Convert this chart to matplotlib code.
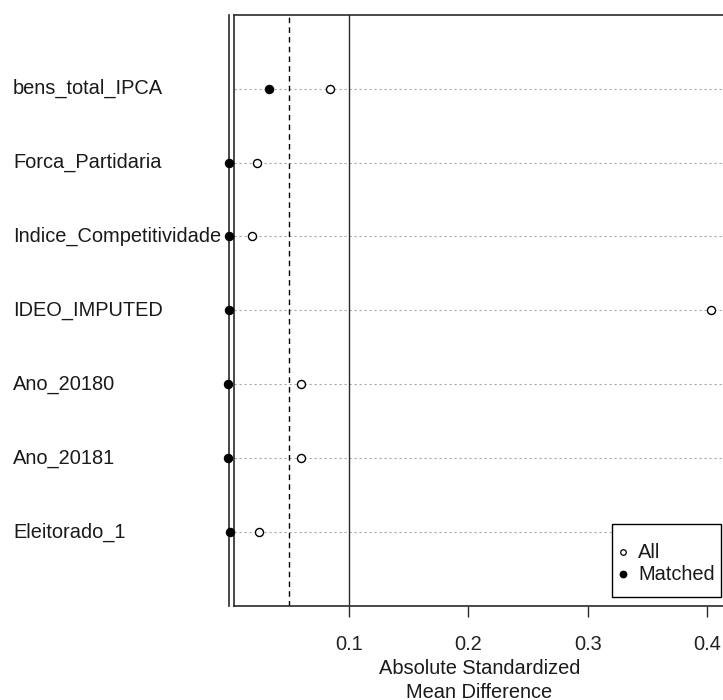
import matplotlib
matplotlib.use("Agg")
import matplotlib.pyplot as plt
from matplotlib.lines import Line2D
from matplotlib.patches import Rectangle
from matplotlib.transforms import blended_transform_factory

plt.rcParams["font.family"] = ["Liberation Sans", "DejaVu Sans"]

# Covariates, top to bottom
covariates = ["bens_total_IPCA", "Forca_Partidaria", "Indice_Competitividade",
              "IDEO_IMPUTED", "Ano_20180", "Ano_20181", "Eleitorado_1"]
# Absolute standardized mean differences
smd_all = [0.084, 0.023, 0.019, 0.403, 0.060, 0.060, 0.025]
smd_matched = [0.033, 0.000, 0.000, 0.000, -0.001, -0.001, 0.001]
xticks = [0.1, 0.2, 0.3, 0.4]
threshold = 0.05
legend_labels = ["All", "Matched"]

W, H = 723, 700
fig = plt.figure(figsize=(W / 100, H / 100), dpi=100)


def fx(px):
    return px / W


def fy(py):
    return 1 - py / H


left_px, right_px, top_px, bottom_px = 234, 725, 14.7, 606
ax = fig.add_axes([fx(left_px), fy(bottom_px),
                   (right_px - left_px) / W, (bottom_px - top_px) / H])

n = len(covariates)
ypos = list(range(n, 0, -1))
ax.set_ylim(0, n + 1)
ax.set_xlim(0.004, 0.4149)

fs = 14.4
ink = "#1a1a1a"

# Row guides
for y in ypos:
    ax.axhline(y, color="#a8a8a8", lw=0.8, ls=(0, (2, 2.5)), zorder=1)

# Reference lines
ax.plot([0, 0], [0, n + 1], color="#2a2a2a", lw=1.2, clip_on=False, zorder=2)
ax.axvline(threshold, color="black", lw=1.0, ls=(0, (4, 3)), zorder=2)
ax.axvline(0.1, color="#2a2a2a", lw=1.0, zorder=2)

# Points
ax.plot(smd_all, ypos, ls="none", marker="o", ms=5.8, mfc="white",
        mec="black", mew=1.0, clip_on=False, zorder=4)
ax.plot(smd_matched, ypos, ls="none", marker="o", ms=6.0, mfc="black",
        mec="black", mew=0.8, clip_on=False, zorder=4)

for s in ax.spines.values():
    s.set_color("#2a2a2a")
    s.set_linewidth(1.2)

ax.set_yticks([])
ax.set_xticks(xticks)
ax.set_xticklabels([f"{t:.1f}" for t in xticks])
ax.tick_params(axis="x", direction="out", length=8, width=1.0, color="#2a2a2a",
               pad=13, labelsize=fs, labelcolor="#222222")

# Covariate names, left aligned at the figure edge
trans = blended_transform_factory(fig.transFigure, ax.transData)
for y, name in zip(ypos, covariates):
    ax.text(fx(13), y, name, transform=trans, ha="left", va="center",
            fontsize=fs, color=ink)

fig.text(fx(479.5), fy(668), "Absolute Standardized",
         ha="center", va="center", fontsize=fs, color=ink)
fig.text(fx(479.5), fy(692), "Mean Difference",
         ha="center", va="center", fontsize=fs, color=ink)

# Legend box
fig.add_artist(Rectangle((fx(612), fy(597)), (721 - 612) / W, (597 - 524) / H,
                         transform=fig.transFigure, facecolor="white",
                         edgecolor="black", lw=1.0, zorder=5))
legend_y = [552, 574]
fig.add_artist(Line2D([fx(623)], [fy(legend_y[0])], transform=fig.transFigure,
                      ls="none", marker="o", ms=4, mfc="white", mec="black",
                      mew=0.9, zorder=6))
fig.add_artist(Line2D([fx(623)], [fy(legend_y[1])], transform=fig.transFigure,
                      ls="none", marker="o", ms=4.6, mfc="black", mec="black",
                      zorder=6))
for y, lab in zip(legend_y, legend_labels):
    fig.text(fx(638), fy(y), lab, ha="left", va="center", fontsize=fs,
             color=ink, zorder=6)

fig.savefig("out.png", dpi=100)
